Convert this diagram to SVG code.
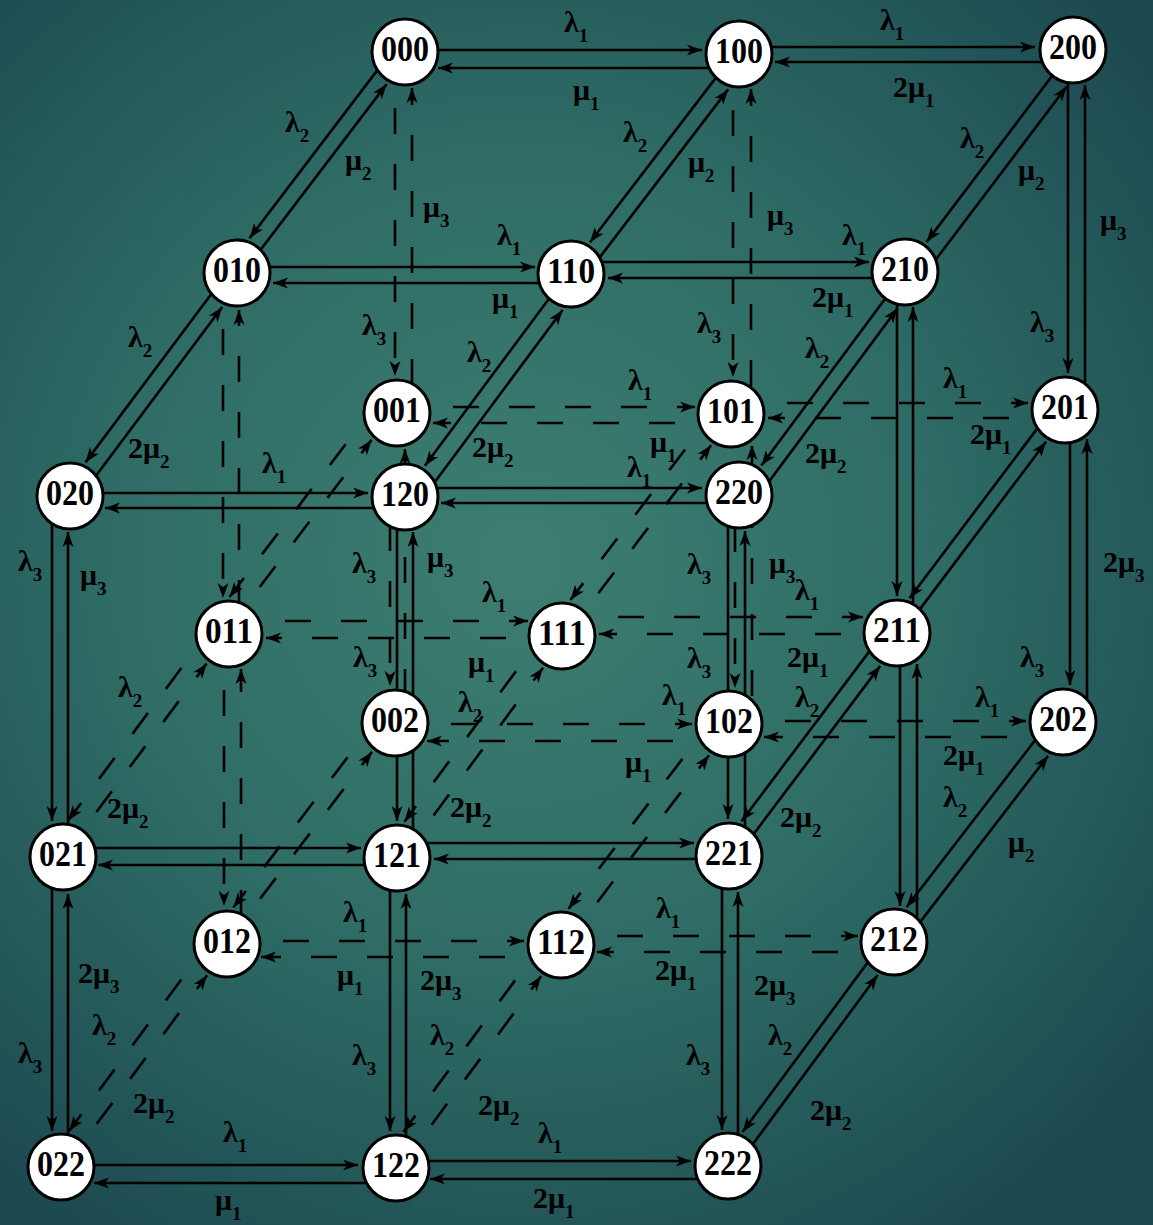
<svg xmlns="http://www.w3.org/2000/svg" width="1153" height="1225" viewBox="0 0 1153 1225">
<defs>
<radialGradient id="bg" gradientUnits="userSpaceOnUse" cx="520" cy="560" r="820">
<stop offset="0" stop-color="#3e7e71"/>
<stop offset="0.5" stop-color="#2e6c65"/>
<stop offset="1" stop-color="#1c4850"/>
</radialGradient>
<marker id="b" markerUnits="userSpaceOnUse" viewBox="-16 -8 16 16" markerWidth="16" markerHeight="16" refX="0" refY="0" orient="auto"><path d="M0,0 L-15,-5.5 L-11,0 L-15,5.5 Z" fill="#000"/></marker>
<style>
.e{stroke:#000;stroke-width:2.6;fill:none;marker-end:url(#b)}
.d{stroke-dasharray:26 30}
.o{stroke-dashoffset:28}
.n circle{fill:#fff;stroke:#000;stroke-width:3}
.n text{font-family:"Liberation Serif",serif;font-weight:bold;font-size:36px;text-anchor:middle;fill:#000}
.l{font-family:"Liberation Serif",serif;font-weight:bold;font-size:30px;fill:#000}
.s{font-size:19px}
</style>
</defs>
<rect width="1153" height="1225" fill="url(#bg)"/>
<g id="connectors">
<path class="e" d="M405,50 H702"/><path class="e" d="M739,68 H438"/>
<path class="e" d="M739,47 H1035"/><path class="e" d="M1073,62 H775"/>
<path class="e" d="M237,267 H535"/><path class="e" d="M571,283 H273"/>
<path class="e" d="M571,262 H869"/><path class="e" d="M905,278 H608"/>
<path class="e" d="M70,493 H368"/><path class="e" d="M405,508 H105"/>
<path class="e" d="M405,488 H702"/><path class="e" d="M739,503 H441"/>
<path class="e d" d="M397,407 H695"/><path class="e d" d="M731,423 H433"/>
<path class="e d" d="M731,403 H1028"/><path class="e d" d="M1065,418 H768"/>
<path class="e d" d="M229,621 H528"/><path class="e d" d="M562,638 H266"/>
<path class="e d" d="M562,617 H863"/><path class="e d" d="M897,634 H599"/>
<path class="e" d="M63,848 H361"/><path class="e" d="M397,865 H98"/>
<path class="e" d="M397,843 H694"/><path class="e" d="M729,859 H434"/>
<path class="e d" d="M395,724 H692"/><path class="e d" d="M729,741 H427"/>
<path class="e d" d="M729,721 H1026"/><path class="e d" d="M1063,737 H764"/>
<path class="e d" d="M227,941 H524"/><path class="e d" d="M561,957 H261"/>
<path class="e d" d="M561,936 H858"/><path class="e d" d="M894,952 H597"/>
<path class="e" d="M61,1165 H358"/><path class="e" d="M396,1183 H94"/>
<path class="e" d="M396,1161 H691"/><path class="e" d="M728,1179 H430"/>
<path class="e d" d="M395,52 V376"/><path class="e d o" d="M412,413 V88"/>
<path class="e d" d="M390,413 V686"/><path class="e d o" d="M405,723 V449"/>
<path class="e d" d="M733,54 V377"/><path class="e d o" d="M751,414 V89"/>
<path class="e d" d="M735,414 V688"/><path class="e d o" d="M752,724 V445"/>
<path class="e" d="M1068,50 V373"/><path class="e" d="M1085,410 V85"/>
<path class="e" d="M1070,410 V685"/><path class="e" d="M1087,722 V439"/>
<path class="e d" d="M223,273 V598"/><path class="e d o" d="M239,634 V310"/>
<path class="e d" d="M224,634 V906"/><path class="e d o" d="M241,944 V669"/>
<path class="e" d="M897,272 V596"/><path class="e" d="M913,633 V307"/>
<path class="e" d="M900,633 V906"/><path class="e" d="M917,942 V664"/>
<path class="e" d="M52,496 V821"/><path class="e" d="M68,857 V532"/>
<path class="e" d="M52,857 V1131"/><path class="e" d="M68,1167 V894"/>
<path class="e" d="M397,497 V821"/><path class="e" d="M413,858 V532"/>
<path class="e" d="M390,858 V1131"/><path class="e" d="M406,1168 V894"/>
<path class="e" d="M728,495 V819"/><path class="e" d="M745,856 V531"/>
<path class="e" d="M722,856 V1130"/><path class="e" d="M738,1166 V892"/>
<path class="e" d="M396.2,45.4 L249.5,238.2"/><path class="e" d="M240.8,275.8 L386.6,84.1"/>
<path class="e" d="M230.6,268.2 L85.4,462.4"/><path class="e" d="M76.9,501.3 L222.2,307"/>
<path class="e" d="M735.8,51.6 L590,242.3"/><path class="e" d="M581.1,281.7 L728.1,89.4"/>
<path class="e" d="M568.6,272.2 L424.9,465.8"/><path class="e" d="M417,506.1 L562.6,310"/>
<path class="e" d="M1072.2,49.4 L926.6,241.9"/><path class="e" d="M918.6,282.3 L1066.7,86.5"/>
<path class="e" d="M905,272 L761.4,465.5"/><path class="e" d="M751.8,504.7 L897.6,308.3"/>
<path class="e d" d="M379.5,399.7 L229.5,597"/><path class="e d" d="M225.8,631.6 L371.6,439.9"/>
<path class="e d" d="M214.7,623.1 L68.2,820.4"/><path class="e d" d="M63,857 L206.7,663.5"/>
<path class="e d" d="M719,404.9 L570.4,600"/><path class="e d" d="M564.4,637.8 L711.1,445.2"/>
<path class="e d" d="M549.3,626.3 L404.4,821.7"/><path class="e d" d="M400.2,860.4 L543,667.7"/>
<path class="e" d="M1056.2,403.4 L909.5,598.2"/><path class="e" d="M900.2,635.4 L1046,441.7"/>
<path class="e" d="M888.2,626.4 L741.5,821.2"/><path class="e" d="M734.2,859.9 L880.2,665.9"/>
<path class="e d" d="M381.5,712.7 L233.3,907.5"/><path class="e d" d="M226.2,943.4 L371.9,751.9"/>
<path class="e d" d="M214.7,934.6 L69,1130.9"/><path class="e d" d="M63.4,1168.8 L207.1,975.2"/>
<path class="e d" d="M716.3,714.3 L568.5,908.7"/><path class="e d" d="M563.4,946.8 L709.1,755.2"/>
<path class="e d" d="M548.3,935.3 L403.5,1131.7"/><path class="e d" d="M398.4,1169.8 L541.1,976.2"/>
<path class="e" d="M1054.2,715.4 L906.5,907.3"/><path class="e" d="M900.8,947.1 L1048.1,755.8"/>
<path class="e" d="M886.8,936.6 L742.5,1132"/><path class="e" d="M733.6,1170.2 L877.7,975.1"/>
</g>
<g id="labels" class="l">
<text x="564" y="32">λ<tspan class="s" dy="10">1</tspan></text>
<text x="573" y="100">μ<tspan class="s" dy="10">1</tspan></text>
<text x="880" y="30">λ<tspan class="s" dy="10">1</tspan></text>
<text x="893" y="97">2μ<tspan class="s" dy="10">1</tspan></text>
<text x="285" y="132">λ<tspan class="s" dy="10">2</tspan></text>
<text x="345" y="170">μ<tspan class="s" dy="10">2</tspan></text>
<text x="423" y="217">μ<tspan class="s" dy="10">3</tspan></text>
<text x="623" y="142">λ<tspan class="s" dy="10">2</tspan></text>
<text x="688" y="172">μ<tspan class="s" dy="10">2</tspan></text>
<text x="767" y="225">μ<tspan class="s" dy="10">3</tspan></text>
<text x="960" y="148">λ<tspan class="s" dy="10">2</tspan></text>
<text x="1018" y="180">μ<tspan class="s" dy="10">2</tspan></text>
<text x="1100" y="230">μ<tspan class="s" dy="10">3</tspan></text>
<text x="497" y="245">λ<tspan class="s" dy="10">1</tspan></text>
<text x="492" y="308">μ<tspan class="s" dy="10">1</tspan></text>
<text x="842" y="245">λ<tspan class="s" dy="10">1</tspan></text>
<text x="812" y="307">2μ<tspan class="s" dy="10">1</tspan></text>
<text x="128" y="347">λ<tspan class="s" dy="10">2</tspan></text>
<text x="128" y="458">2μ<tspan class="s" dy="10">2</tspan></text>
<text x="362" y="335">λ<tspan class="s" dy="10">3</tspan></text>
<text x="467" y="362">λ<tspan class="s" dy="10">2</tspan></text>
<text x="472" y="457">2μ<tspan class="s" dy="10">2</tspan></text>
<text x="697" y="333">λ<tspan class="s" dy="10">3</tspan></text>
<text x="805" y="358">λ<tspan class="s" dy="10">2</tspan></text>
<text x="805" y="463">2μ<tspan class="s" dy="10">2</tspan></text>
<text x="1030" y="332">λ<tspan class="s" dy="10">3</tspan></text>
<text x="628" y="390">λ<tspan class="s" dy="10">1</tspan></text>
<text x="650" y="452">μ<tspan class="s" dy="10">1</tspan></text>
<text x="943" y="388">λ<tspan class="s" dy="10">1</tspan></text>
<text x="970" y="444">2μ<tspan class="s" dy="10">1</tspan></text>
<text x="262" y="473">λ<tspan class="s" dy="10">1</tspan></text>
<text x="627" y="477">λ<tspan class="s" dy="10">1</tspan></text>
<text x="18" y="571">λ<tspan class="s" dy="10">3</tspan></text>
<text x="80" y="585">μ<tspan class="s" dy="10">3</tspan></text>
<text x="352" y="573">λ<tspan class="s" dy="10">3</tspan></text>
<text x="427" y="567">μ<tspan class="s" dy="10">3</tspan></text>
<text x="687" y="574">λ<tspan class="s" dy="10">3</tspan></text>
<text x="769" y="573">μ<tspan class="s" dy="10">3</tspan></text>
<text x="1103" y="572">2μ<tspan class="s" dy="10">3</tspan></text>
<text x="482" y="602">λ<tspan class="s" dy="10">1</tspan></text>
<text x="795" y="600">λ<tspan class="s" dy="10">1</tspan></text>
<text x="353" y="667">λ<tspan class="s" dy="10">3</tspan></text>
<text x="468" y="672">μ<tspan class="s" dy="10">1</tspan></text>
<text x="687" y="668">λ<tspan class="s" dy="10">3</tspan></text>
<text x="787" y="667">2μ<tspan class="s" dy="10">1</tspan></text>
<text x="1020" y="667">λ<tspan class="s" dy="10">3</tspan></text>
<text x="118" y="697">λ<tspan class="s" dy="10">2</tspan></text>
<text x="458" y="712">λ<tspan class="s" dy="10">2</tspan></text>
<text x="662" y="705">λ<tspan class="s" dy="10">1</tspan></text>
<text x="795" y="707">λ<tspan class="s" dy="10">2</tspan></text>
<text x="975" y="707">λ<tspan class="s" dy="10">1</tspan></text>
<text x="625" y="772">μ<tspan class="s" dy="10">1</tspan></text>
<text x="943" y="765">2μ<tspan class="s" dy="10">1</tspan></text>
<text x="943" y="807">λ<tspan class="s" dy="10">2</tspan></text>
<text x="107" y="818">2μ<tspan class="s" dy="10">2</tspan></text>
<text x="450" y="817">2μ<tspan class="s" dy="10">2</tspan></text>
<text x="780" y="827">2μ<tspan class="s" dy="10">2</tspan></text>
<text x="1008" y="852">μ<tspan class="s" dy="10">2</tspan></text>
<text x="343" y="922">λ<tspan class="s" dy="10">1</tspan></text>
<text x="337" y="985">μ<tspan class="s" dy="10">1</tspan></text>
<text x="656" y="918">λ<tspan class="s" dy="10">1</tspan></text>
<text x="655" y="980">2μ<tspan class="s" dy="10">1</tspan></text>
<text x="78" y="983">2μ<tspan class="s" dy="10">3</tspan></text>
<text x="420" y="990">2μ<tspan class="s" dy="10">3</tspan></text>
<text x="754" y="995">2μ<tspan class="s" dy="10">3</tspan></text>
<text x="92" y="1035">λ<tspan class="s" dy="10">2</tspan></text>
<text x="430" y="1045">λ<tspan class="s" dy="10">2</tspan></text>
<text x="768" y="1045">λ<tspan class="s" dy="10">2</tspan></text>
<text x="18" y="1063">λ<tspan class="s" dy="10">3</tspan></text>
<text x="352" y="1065">λ<tspan class="s" dy="10">3</tspan></text>
<text x="686" y="1065">λ<tspan class="s" dy="10">3</tspan></text>
<text x="133" y="1113">2μ<tspan class="s" dy="10">2</tspan></text>
<text x="478" y="1115">2μ<tspan class="s" dy="10">2</tspan></text>
<text x="810" y="1120">2μ<tspan class="s" dy="10">2</tspan></text>
<text x="223" y="1142">λ<tspan class="s" dy="10">1</tspan></text>
<text x="538" y="1143">λ<tspan class="s" dy="10">1</tspan></text>
<text x="215" y="1210">μ<tspan class="s" dy="10">1</tspan></text>
<text x="533" y="1208">2μ<tspan class="s" dy="10">1</tspan></text>
</g>
<g id="n000" class="n"><circle cx="405" cy="52" r="33"/><text x="405" y="61" textLength="48" lengthAdjust="spacingAndGlyphs">000</text></g>
<g id="n100" class="n"><circle cx="739" cy="54" r="33"/><text x="739" y="63" textLength="48" lengthAdjust="spacingAndGlyphs">100</text></g>
<g id="n200" class="n"><circle cx="1073" cy="50" r="33"/><text x="1073" y="59" textLength="48" lengthAdjust="spacingAndGlyphs">200</text></g>
<g id="n010" class="n"><circle cx="237" cy="273" r="33"/><text x="237" y="282" textLength="48" lengthAdjust="spacingAndGlyphs">010</text></g>
<g id="n110" class="n"><circle cx="571" cy="274" r="33"/><text x="571" y="283" textLength="48" lengthAdjust="spacingAndGlyphs">110</text></g>
<g id="n210" class="n"><circle cx="905" cy="272" r="33"/><text x="905" y="281" textLength="48" lengthAdjust="spacingAndGlyphs">210</text></g>
<g id="n001" class="n"><circle cx="397" cy="413" r="33"/><text x="397" y="422" textLength="48" lengthAdjust="spacingAndGlyphs">001</text></g>
<g id="n101" class="n"><circle cx="731" cy="414" r="33"/><text x="731" y="423" textLength="48" lengthAdjust="spacingAndGlyphs">101</text></g>
<g id="n201" class="n"><circle cx="1065" cy="410" r="33"/><text x="1065" y="419" textLength="48" lengthAdjust="spacingAndGlyphs">201</text></g>
<g id="n020" class="n"><circle cx="70" cy="496" r="33"/><text x="70" y="505" textLength="48" lengthAdjust="spacingAndGlyphs">020</text></g>
<g id="n120" class="n"><circle cx="405" cy="497" r="33"/><text x="405" y="506" textLength="48" lengthAdjust="spacingAndGlyphs">120</text></g>
<g id="n220" class="n"><circle cx="739" cy="495" r="33"/><text x="739" y="504" textLength="48" lengthAdjust="spacingAndGlyphs">220</text></g>
<g id="n011" class="n"><circle cx="229" cy="634" r="33"/><text x="229" y="643" textLength="48" lengthAdjust="spacingAndGlyphs">011</text></g>
<g id="n111" class="n"><circle cx="562" cy="636" r="33"/><text x="562" y="645" textLength="48" lengthAdjust="spacingAndGlyphs">111</text></g>
<g id="n211" class="n"><circle cx="897" cy="633" r="33"/><text x="897" y="642" textLength="48" lengthAdjust="spacingAndGlyphs">211</text></g>
<g id="n002" class="n"><circle cx="395" cy="723" r="33"/><text x="395" y="732" textLength="48" lengthAdjust="spacingAndGlyphs">002</text></g>
<g id="n102" class="n"><circle cx="729" cy="724" r="33"/><text x="729" y="733" textLength="48" lengthAdjust="spacingAndGlyphs">102</text></g>
<g id="n202" class="n"><circle cx="1063" cy="722" r="33"/><text x="1063" y="731" textLength="48" lengthAdjust="spacingAndGlyphs">202</text></g>
<g id="n021" class="n"><circle cx="63" cy="857" r="33"/><text x="63" y="866" textLength="48" lengthAdjust="spacingAndGlyphs">021</text></g>
<g id="n121" class="n"><circle cx="397" cy="858" r="33"/><text x="397" y="867" textLength="48" lengthAdjust="spacingAndGlyphs">121</text></g>
<g id="n221" class="n"><circle cx="729" cy="856" r="33"/><text x="729" y="865" textLength="48" lengthAdjust="spacingAndGlyphs">221</text></g>
<g id="n012" class="n"><circle cx="227" cy="944" r="33"/><text x="227" y="953" textLength="48" lengthAdjust="spacingAndGlyphs">012</text></g>
<g id="n112" class="n"><circle cx="561" cy="945" r="33"/><text x="561" y="954" textLength="48" lengthAdjust="spacingAndGlyphs">112</text></g>
<g id="n212" class="n"><circle cx="894" cy="942" r="33"/><text x="894" y="951" textLength="48" lengthAdjust="spacingAndGlyphs">212</text></g>
<g id="n022" class="n"><circle cx="61" cy="1167" r="33"/><text x="61" y="1176" textLength="48" lengthAdjust="spacingAndGlyphs">022</text></g>
<g id="n122" class="n"><circle cx="396" cy="1168" r="33"/><text x="396" y="1177" textLength="48" lengthAdjust="spacingAndGlyphs">122</text></g>
<g id="n222" class="n"><circle cx="728" cy="1166" r="33"/><text x="728" y="1175" textLength="48" lengthAdjust="spacingAndGlyphs">222</text></g>
</svg>
